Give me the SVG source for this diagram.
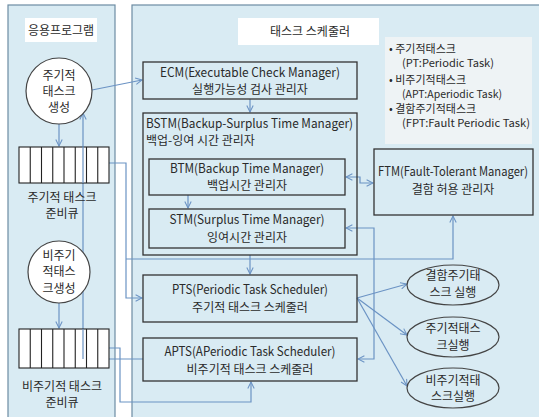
<svg xmlns="http://www.w3.org/2000/svg" width="539" height="417" viewBox="0 0 539 417">
<defs>
<style>
text{font-family:"Noto Sans CJK KR","Noto Sans",sans-serif;font-size:12px;fill:#2a2a2a;text-anchor:middle}
.l{text-anchor:start}
.e{font-size:12.5px}
.s{font-size:11px}
.panel{fill:#d9ebf3;stroke:#6d8ca3;stroke-width:1.2}
.box{fill:none;stroke:#333;stroke-width:1.3}
.wb{fill:#fff;stroke:none}
.node{fill:#fff;stroke:#444;stroke-width:1.2}
.ell{fill:none;stroke:#444;stroke-width:1.2}
.q{fill:#fff;stroke:#222;stroke-width:1.1}
.c{fill:none;stroke:#6b93c4;stroke-width:1.2}
</style>
<marker id="ah" viewBox="0 0 10 10" refX="9" refY="5" markerWidth="8" markerHeight="8" markerUnits="userSpaceOnUse" orient="auto-start-reverse">
<path d="M1,1 L9,5 L1,9" fill="none" stroke="#6b93c4" stroke-width="1.3"/>
</marker>
</defs>
<rect x="0" y="0" width="539" height="417" fill="#fff"/>
<rect class="panel" x="8" y="5" width="107" height="420"/>
<rect class="panel" x="132" y="5" width="420" height="420"/>

<g id="app-label"><rect class="wb" x="25" y="18" width="72" height="24"/><text x="61" y="35">응용프로그램</text></g>
<g id="sched-label"><rect class="wb" x="238" y="18" width="141" height="27"/><text x="310" y="36">태스크 스케줄러</text></g>

<g id="legend">
<rect x="385" y="37" width="147" height="107" fill="#eef3f5"/>
<text class="l s" x="389" y="53">• 주기적태스크</text>
<text class="l s" x="402" y="67" textLength="92" lengthAdjust="spacingAndGlyphs">(PT:Periodic Task)</text>
<text class="l s" x="389" y="84">• 비주기적태스크</text>
<text class="l s" x="402" y="98" textLength="100" lengthAdjust="spacingAndGlyphs">(APT:Aperiodic Task)</text>
<text class="l s" x="389" y="113">• 결함주기적태스크</text>
<text class="l s" x="402" y="127" textLength="128" lengthAdjust="spacingAndGlyphs">(FPT:Fault Periodic Task)</text>
</g>

<g id="connectors">
<path class="c" d="M92,90 L142,80" marker-end="url(#ah)"/>
<path class="c" d="M59,124 V146" marker-end="url(#ah)"/>
<path class="c" d="M59,303 V328" marker-end="url(#ah)"/>
<path class="c" d="M143,359 H83 V113" marker-end="url(#ah)"/>
<path class="c" d="M109,163 H126 V298 H142" marker-end="url(#ah)"/>
<path class="c" d="M126,259 H453 V216" marker-end="url(#ah)"/>
<path class="c" d="M109,348 H120 V402 H251 V382" marker-end="url(#ah)"/>
<path class="c" d="M250,99 V112" marker-end="url(#ah)"/>
<path class="c" d="M188,195 V208" marker-end="url(#ah)"/>
<path class="c" d="M250,255 V274" marker-end="url(#ah)"/>
<path class="c" d="M346,177 H360 V183 H373" marker-start="url(#ah)" marker-end="url(#ah)"/>
<path class="c" d="M346,228 H374 V359 H358" marker-start="url(#ah)" marker-end="url(#ah)"/>
<path class="c" d="M357,298 L407,284" marker-end="url(#ah)"/>
<path class="c" d="M357,298 L407,335" marker-end="url(#ah)"/>
<path class="c" d="M357,298 L407,386" marker-end="url(#ah)"/>
</g>

<g id="pt-gen"><circle class="node" cx="59" cy="91" r="33"/><text x="59" y="80">주기적</text><text x="59" y="96">태스크</text><text x="59" y="112">생성</text></g>

<g id="pt-queue">
<rect class="q" x="19" y="147" width="90" height="36"/>
<path d="M30.25,147V183M41.5,147V183M52.75,147V183M64,147V183M75.25,147V183M86.5,147V183M97.75,147V183" stroke="#222" stroke-width="1.1"/>
<text x="62" y="202">주기적 태스크</text><text x="62" y="218">준비큐</text>
</g>

<g id="apt-gen"><circle class="node" cx="59" cy="272" r="31"/><text x="59" y="260">비주기</text><text x="59" y="276">적태스</text><text x="59" y="293">크생성</text></g>

<g id="apt-queue">
<rect class="q" x="19" y="329" width="90" height="39"/>
<path d="M30.25,329V368M41.5,329V368M52.75,329V368M64,329V368M75.25,329V368M86.5,329V368M97.75,329V368" stroke="#222" stroke-width="1.1"/>
<text x="62" y="391">비주기적 태스크</text><text x="62" y="407">준비큐</text>
</g>
<path class="c" d="M83,146 V183 M83,329 V359"/>

<g id="ecm"><rect class="box" x="143" y="62" width="214" height="37"/><text class="e" x="250" y="77" textLength="180" lengthAdjust="spacingAndGlyphs">ECM(Executable Check Manager)</text><text x="250" y="94">실행가능성 검사 관리자</text></g>
<g id="bstm"><rect class="box" x="143" y="113" width="214" height="142"/><text class="l e" x="146" y="128" textLength="207" lengthAdjust="spacingAndGlyphs">BSTM(Backup-Surplus Time Manager)</text><text class="l" x="146" y="145">백업-잉여 시간 관리자</text></g>
<g id="btm"><rect class="box" x="149" y="159" width="196" height="36"/><text class="e" x="247" y="173" textLength="154" lengthAdjust="spacingAndGlyphs">BTM(Backup Time Manager)</text><text x="247" y="190">백업시간 관리자</text></g>
<g id="stm"><rect class="box" x="149" y="209" width="196" height="39"/><text class="e" x="247" y="224" textLength="155" lengthAdjust="spacingAndGlyphs">STM(Surplus Time Manager)</text><text x="247" y="242">잉여시간 관리자</text></g>
<g id="ftm"><rect class="box" x="374" y="149" width="159" height="66"/><text class="e" x="453" y="176" textLength="150" lengthAdjust="spacingAndGlyphs">FTM(Fault-Tolerant Manager)</text><text x="453" y="194">결함 허용 관리자</text></g>
<g id="pts"><rect class="box" x="143" y="275" width="214" height="47"/><text class="e" x="250" y="294" textLength="156" lengthAdjust="spacingAndGlyphs">PTS(Periodic Task Scheduler)</text><text x="250" y="312">주기적 태스크 스케줄러</text></g>
<g id="apts"><rect class="box" x="143" y="338" width="214" height="43"/><text class="e" x="250" y="356" textLength="171" lengthAdjust="spacingAndGlyphs">APTS(APeriodic Task Scheduler)</text><text x="250" y="374">비주기적 태스크 스케줄러</text></g>

<g id="fpt-run"><ellipse class="ell" cx="453" cy="285" rx="46" ry="20"/><text x="453" y="280">결함주기태</text><text x="453" y="297">스크 실행</text></g>
<g id="pt-run"><ellipse class="ell" cx="453" cy="337" rx="46" ry="20"/><text x="453" y="333">주기적태스</text><text x="453" y="350">크실행</text></g>
<g id="apt-run"><ellipse class="ell" cx="453" cy="388" rx="46" ry="20"/><text x="453" y="385">비주기적태</text><text x="453" y="401">스크실행</text></g>
</svg>
